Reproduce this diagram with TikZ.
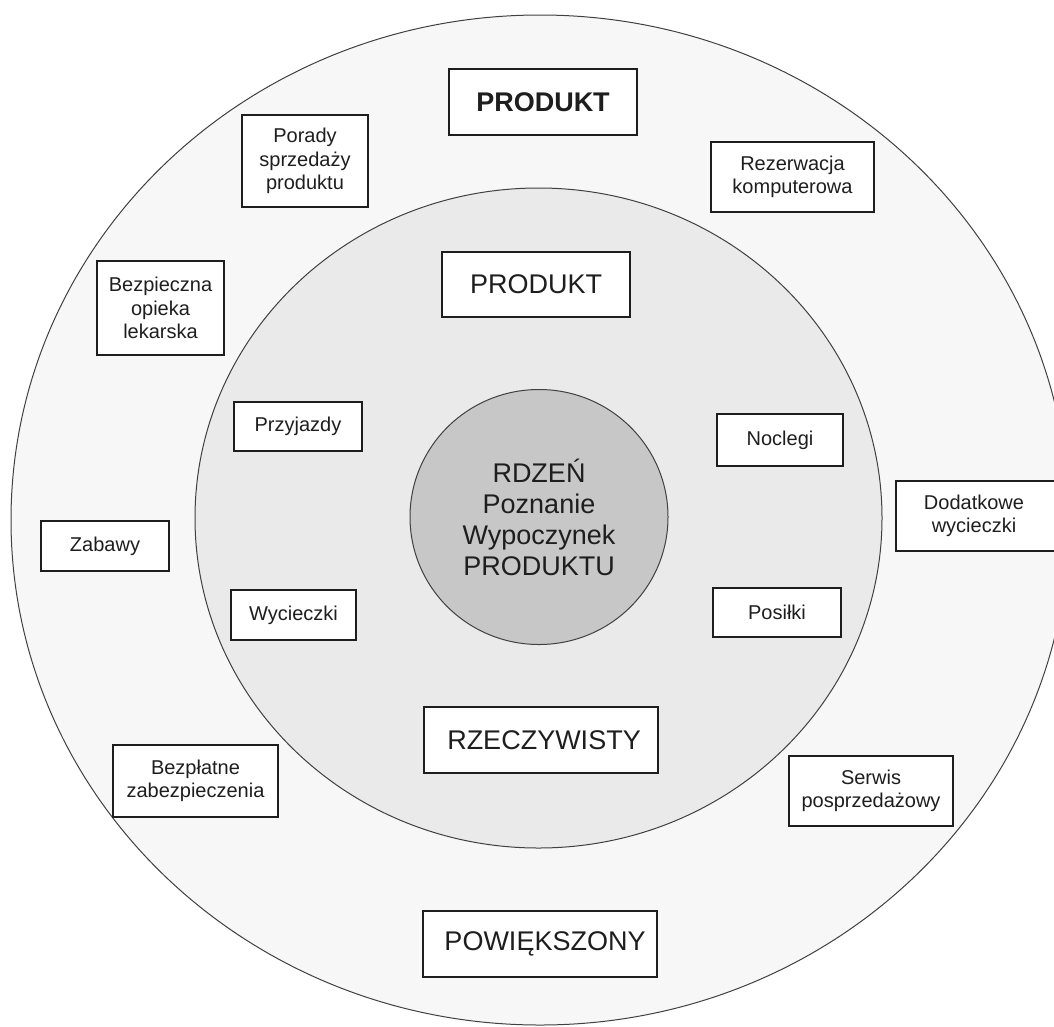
\documentclass[tikz,border=0pt]{standalone}
\usepackage{fontspec}
\setmainfont{Liberation Sans}
\usetikzlibrary{shapes.geometric}

\definecolor{ringouter}{HTML}{F7F7F7}
\definecolor{ringmid}{HTML}{EAEAEA}
\definecolor{corefill}{HTML}{C7C7C7}
\definecolor{ink}{HTML}{1E1E1E}

\tikzset{
  ring/.style={draw=ink!85, line width=1pt},
  box/.style={draw=ink, fill=white, line width=1.5pt, inner sep=0pt,
    align=center, text=ink, font=\fontsize{20}{23.5}\selectfont},
  bigbox/.style={box, font=\fontsize{27}{31}\selectfont},
  core/.style={ellipse, draw=ink!85, fill=corefill, line width=1pt, inner sep=0pt,
    align=center, text=ink, font=\fontsize{27}{31}\selectfont}
}

\begin{document}
\begin{tikzpicture}[x=1pt,y=-1pt]
\useasboundingbox (0,0) rectangle (1054,1026);

% concentric product layers
\draw[ring, fill=ringouter] (540,520) ellipse [x radius=529pt, y radius=505pt];
\draw[ring, fill=ringmid] (538.5,518) ellipse [x radius=343.5pt, y radius=330pt];
\node[core, minimum width=258pt, minimum height=255pt] (rdzen) at (539,517)
  {RDZEŃ\\Poznanie\\Wypoczynek\\PRODUKTU};

% augmented product ring
\node[bigbox, minimum width=188pt, minimum height=66pt, font=\fontsize{27}{31}\selectfont\bfseries] (produktA) at (543,102) {PRODUKT};
\node[box, minimum width=126pt, minimum height=92pt] (porady) at (305,161) {Porady\\sprzedaży\\produktu};
\node[box, minimum width=163pt, minimum height=70pt] (rezerwacja) at (792.5,177) {Rezerwacja\\komputerowa};
\node[box, minimum width=127pt, minimum height=94pt] (opieka) at (160.5,308) {Bezpieczna\\opieka\\lekarska};
\node[box, minimum width=162pt, minimum height=70pt] (dodatkowe) at (977,516) {Dodatkowe\hspace*{6pt}\\wycieczki\hspace*{6pt}};
\node[box, minimum width=128pt, minimum height=50pt] (zabawy) at (105,546) {Zabawy};
\node[box, minimum width=165pt, minimum height=72pt] (bezplatne) at (195.5,781) {Bezpłatne\\zabezpieczenia};
\node[box, minimum width=164pt, minimum height=70pt] (serwis) at (871,791) {Serwis\\posprzedażowy};
\node[bigbox, minimum width=234pt, minimum height=66pt] (powiekszony) at (540,944) {\hspace*{10pt}POWIĘKSZONY};

% actual product ring
\node[bigbox, minimum width=188pt, minimum height=65pt] (produktB) at (536,284.5) {PRODUKT};
\node[box, minimum width=128pt, minimum height=49pt] (przyjazdy) at (298,426.5) {Przyjazdy};
\node[box, minimum width=125pt, minimum height=50pt] (wycieczki) at (293.5,615) {Wycieczki};
\node[box, minimum width=126pt, minimum height=52pt] (noclegi) at (780,440) {Noclegi};
\node[box, minimum width=128pt, minimum height=49pt] (posilki) at (777,612.5) {Posiłki};
\node[bigbox, minimum width=234pt, minimum height=66pt] (rzeczywisty) at (541,740) {\hspace*{6pt}RZECZYWISTY};
\end{tikzpicture}
\end{document}
